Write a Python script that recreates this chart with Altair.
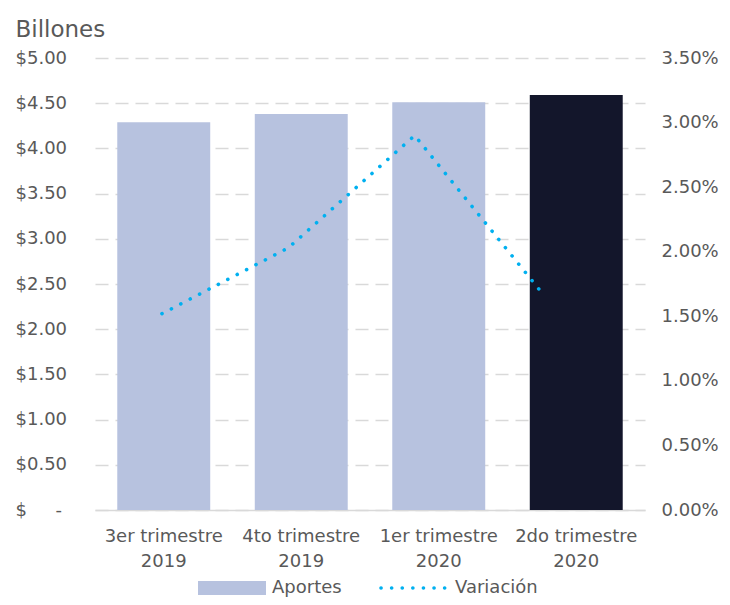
import altair as alt
import pandas as pd

categorias = ["3er trimestre\n2019", "4to trimestre\n2019", "1er trimestre\n2020", "2do trimestre\n2020"]
aportes = [4.29, 4.38, 4.51, 4.59]
variacion = [0.0152, 0.0203, 0.0290, 0.0169]
ticks_izq = [0, 0.5, 1.0, 1.5, 2.0, 2.5, 3.0, 3.5, 4.0, 4.5, 5.0]
ticks_der = [0, 0.005, 0.01, 0.015, 0.02, 0.025, 0.03, 0.035]
leyenda = ["Aportes", "Variación"]

df = pd.DataFrame({"cat": categorias, "aportes": aportes, "var": variacion,
                   "idx": list(range(len(categorias)))})
one = pd.DataFrame({"k": [0]})

FONT = "DejaVu Sans"
GRAY = "#595959"
LIGHT = "#B7C2DF"
DARK = "#13162B"
BLUE = "#00B0F0"
GRID = "#D9D9D9"

nb = "\u00a0"
left_expr = f"datum.value == 0 ? '${nb*5}-' : '$' + format(datum.value, '.2f')"

bars = alt.Chart(df).mark_bar().encode(
    x=alt.X("cat:N", sort=categorias,
            scale=alt.Scale(paddingInner=0.324, paddingOuter=0.162),
            axis=alt.Axis(title=None, labelExpr="split(datum.label, '\\n')", labelAngle=0,
                          labelFontSize=18, labelColor=GRAY, labelPadding=17, labelLineHeight=25,
                          labelFont=FONT, ticks=False, tickSize=0, domainColor=GRID, domainWidth=1.5)),
    y=alt.Y("aportes:Q", scale=alt.Scale(domain=[0, 5], nice=False),
            axis=alt.Axis(values=ticks_izq, title="Billones", titleAngle=0, titleAlign="left",
                          titleX=-80, titleY=-22, titleBaseline="alphabetic", titleFontSize=23,
                          titleFontWeight="normal", titleColor=GRAY, titleFont=FONT,
                          labelAlign="left", labelPadding=80, labelFontSize=18, labelColor=GRAY,
                          labelFont=FONT, labelExpr=left_expr,
                          ticks=False, tickSize=0, domain=False, grid=True, gridDash=[13, 7],
                          gridColor=GRID, gridWidth=1.5)),
    color=alt.condition(alt.datum.cat == categorias[-1], alt.value(DARK), alt.value(LIGHT)),
)

line = alt.Chart(df).mark_line(color=BLUE, strokeWidth=3.6, strokeDash=[0.1, 10.5],
                               strokeCap="round").encode(
    x=alt.X("idx:Q", scale=alt.Scale(domain=[-0.53, 3.823], nice=False, zero=False), axis=None),
    y=alt.Y("var:Q", scale=alt.Scale(domain=[0, 0.035], nice=False),
            axis=alt.Axis(orient="right", values=ticks_der, format=".2%", labelFontSize=18,
                          labelColor=GRAY, labelFont=FONT, labelPadding=16, ticks=False,
                          tickSize=0, domain=False, grid=False, title=None)),
)

leg_rect = alt.Chart(one).mark_rect(color=LIGHT).encode(
    x=alt.value(103), x2=alt.value(171), y=alt.value(523), y2=alt.value(537))
leg_t1 = alt.Chart(one).mark_text(text=leyenda[0], align="left", baseline="alphabetic",
                                  fontSize=18, color=GRAY, font=FONT).encode(
    x=alt.value(177), y=alt.value(535))
leg_dots = alt.Chart(one).mark_rule(color=BLUE, strokeWidth=3.6, strokeDash=[0.1, 10.5],
                                    strokeCap="round").encode(
    x=alt.value(286), x2=alt.value(356), y=alt.value(530))
leg_t2 = alt.Chart(one).mark_text(text=leyenda[1], align="left", baseline="alphabetic",
                                  fontSize=18, color=GRAY, font=FONT).encode(
    x=alt.value(360), y=alt.value(535))

chart = alt.layer(bars, line, leg_rect, leg_t1, leg_dots, leg_t2).resolve_scale(
    x="independent", y="independent"
).properties(
    width=550, height=452,
    autosize=alt.AutoSizeParams(type="none"),
    padding={"left": 87, "top": 50, "right": 77, "bottom": 87},
).configure(font=FONT).configure_view(stroke=None)

chart.save("out.html", embed_options={"renderer": "svg", "actions": False})
